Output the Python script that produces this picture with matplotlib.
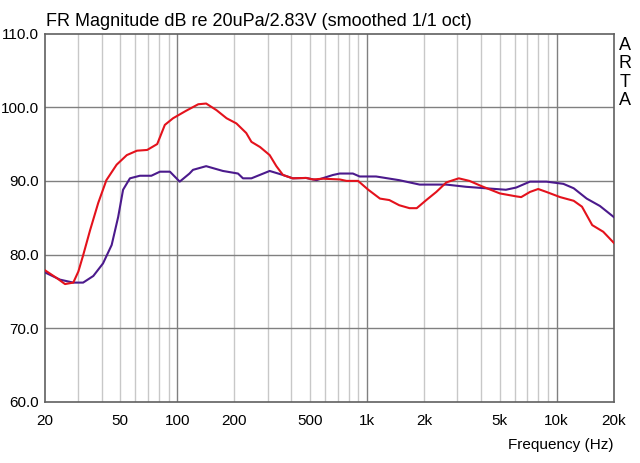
import numpy as np
import matplotlib
matplotlib.use('Agg')
import matplotlib.pyplot as plt
from matplotlib.ticker import FixedLocator, NullFormatter

plt.rcParams['font.family'] = ['Liberation Sans', 'DejaVu Sans']

# red trace
red_f = [20, 23.2, 25.6, 28.3, 30.1, 31.9, 34.7, 38.3, 42.3, 47.9, 54.2, 61.3, 69.4, 78.4,
         86, 95, 111, 129, 142, 161, 182, 205, 231, 246, 273, 307, 333, 361, 406,
         478, 520, 586, 718, 780, 898, 1016, 1171, 1312, 1479, 1676, 1830, 2055, 2320,
         2622, 3048, 3470, 4010, 5020, 6120, 6500, 7230, 7990, 8840, 10430, 12300,
         13600, 15400, 17600, 20000]
red_db = [77.9, 76.8, 76.0, 76.2, 77.7, 79.9, 83.3, 87.0, 90.1, 92.2, 93.5, 94.1, 94.2, 95.0,
          97.6, 98.5, 99.5, 100.4, 100.5, 99.6, 98.5, 97.8, 96.5, 95.3, 94.6, 93.5, 92.0, 90.8, 90.35,
          90.4, 90.2, 90.3, 90.2, 90.0, 90.0, 88.8, 87.6, 87.4, 86.7, 86.3, 86.3, 87.4, 88.5,
          89.8, 90.35, 90.0, 89.3, 88.3, 87.9, 87.8, 88.5, 88.9, 88.5, 87.8, 87.3,
          86.5, 84.0, 83.1, 81.6]

# purple trace
pur_f = [20, 24.1, 28.3, 31.9, 36.1, 40.6, 45.1, 48.8, 51.8, 56.3, 63.5, 73, 81, 91.5,
         103, 116, 121, 142, 174, 209, 222, 246, 307, 361, 406, 478, 542, 661, 718,
         843, 915, 1117, 1479, 1895, 2622, 3330, 4230, 5400, 6120, 7230, 8840, 10850,
         12300, 14400, 16900, 20000]
pur_db = [77.6, 76.6, 76.2, 76.2, 77.1, 78.8, 81.3, 85.1, 88.8, 90.35, 90.7, 90.7, 91.25, 91.25,
          89.9, 91.0, 91.5, 92.0, 91.35, 91.0, 90.35, 90.35, 91.35, 90.8, 90.35, 90.4, 90.1, 90.8, 91.0,
          91.0, 90.6, 90.6, 90.1, 89.5, 89.5, 89.2, 89.0, 88.8, 89.1, 89.9, 89.9, 89.6,
          89.0, 87.6, 86.6, 85.1]

xticks = [20, 50, 100, 200, 500, 1000, 2000, 5000, 10000, 20000]
xlabels = ['20', '50', '100', '200', '500', '1k', '2k', '5k', '10k', '20k']
yticks = [60, 70, 80, 90, 100, 110]

fig = plt.figure(figsize=(6.4, 4.63), dpi=100)
ax = fig.add_axes([0.0698, 0.1318, 0.8892, 0.7958])

ax.set_xscale('log')
ax.set_xlim(20, 20000)
ax.set_ylim(60, 110)

# minor grid lines (light) and decade lines (darker)
minors = [f * 10 ** d for d in range(1, 5) for f in range(2, 10) if 20 < f * 10 ** d < 20000]
for m in minors:
    ax.axvline(m, color='#c8c8c8', lw=1, zorder=1)
for d in [100, 1000, 10000]:
    ax.axvline(d, color='#808080', lw=1, zorder=1)
for y in [70, 80, 90, 100]:
    ax.axhline(y, color='#808080', lw=1, zorder=1)

ax.plot(pur_f, pur_db, color='#4b1a8c', lw=1.5, zorder=3)
ax.plot(red_f, red_db, color='#e4121c', lw=1.5, zorder=4)

ax.xaxis.set_major_locator(FixedLocator(xticks))
ax.xaxis.set_minor_locator(FixedLocator([]))
ax.xaxis.set_minor_formatter(NullFormatter())
ax.set_xticks(xticks)
ax.set_xticklabels(xlabels)
ax.set_yticks(yticks)
ax.set_yticklabels(['%.1f' % v for v in yticks])
ax.tick_params(length=0, labelsize=11, colors='black', pad=4)
ax.tick_params(axis='x', pad=9)

for s in ax.spines.values():
    s.set_color('#606060')
    s.set_linewidth(1.2)

fig.text(45.5 / 640, 1 - 26.5 / 463, 'FR Magnitude dB re 20uPa/2.83V (smoothed 1/1 oct)',
         fontsize=13, ha='left', va='baseline')
fig.text(613 / 640, 1 - 445 / 463, 'Frequency (Hz)', fontsize=11, ha='right', va='center')
fig.text(625 / 640, 1 - 37 / 463, 'A\nR\nT\nA', fontsize=13, ha='center', va='top',
         linespacing=1.1)

fig.savefig('out.png', dpi=100, facecolor='white')
